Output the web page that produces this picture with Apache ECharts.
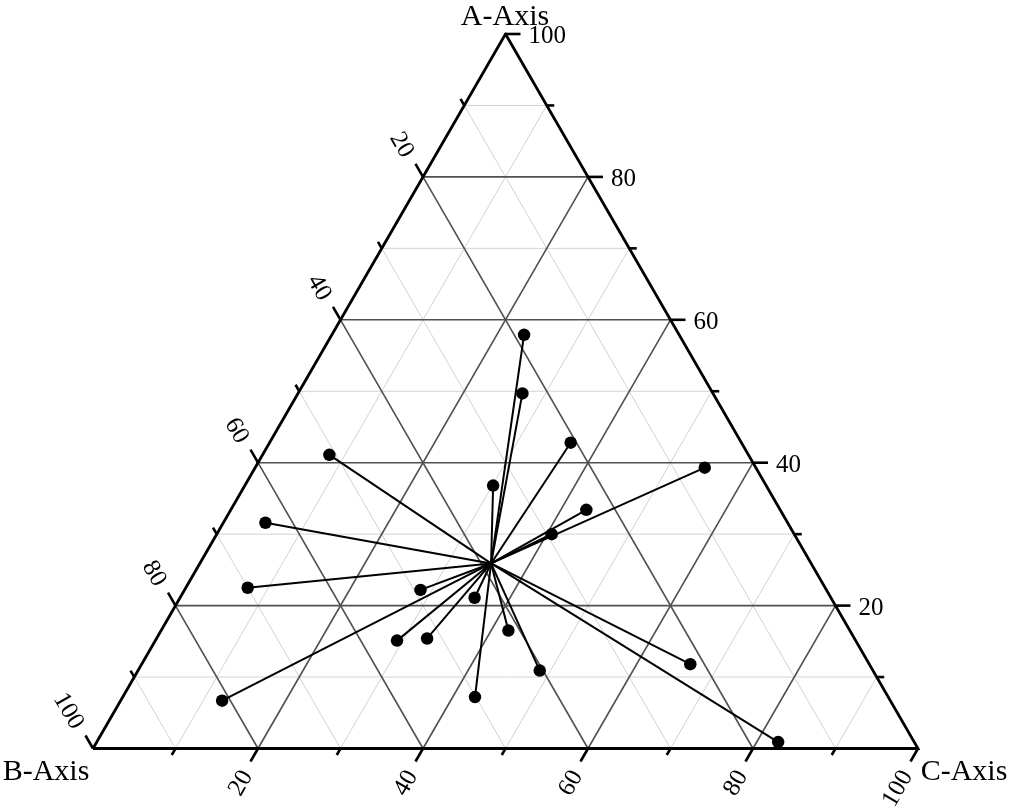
<!DOCTYPE html>
<html><head><meta charset="utf-8">
<script src="https://cdn.jsdelivr.net/npm/echarts@6/dist/echarts.min.js"></script>
<style>html,body{margin:0;padding:0;background:#fff}#c{width:1011px;height:812px}</style>
</head><body><div id="c"></div>
<script>
// ---- data (ternary compositions, percent) ----
const hubA = 25.9, hubB = 38.8, hubC = 35.3;
const pointA = [57.9, 49.7, 42.8, 39.3, 41.1, 36.8, 33.4, 31.6, 30.0, 22.5, 22.2, 21.1, 16.5, 15.1, 15.4, 11.8, 10.9, 6.7, 7.2, 0.9];
const pointB = [18.8, 23.1, 20.7, 6.2, 50.8, 33.1, 23.5, 63.3, 29.4, 70.0, 49.2, 43.2, 41.4, 55.6, 51.8, 21.7, 40.4, 81.0, 50.1, 16.5];
const pointC = [23.3, 27.2, 36.5, 54.5, 8.1, 30.1, 43.1, 5.1, 40.6, 7.5, 28.6, 35.7, 42.1, 29.3, 32.8, 66.5, 48.7, 12.3, 42.7, 82.6];
const tickValues = [10, 20, 30, 40, 50, 60, 70, 80, 90, 100];
const tickLabels = ['20', '40', '60', '80', '100'];
const majorGrid = [20, 40, 60, 80];
const minorGrid = [10, 30, 50, 70, 90];
const axisTitles = ['A-Axis', 'B-Axis', 'C-Axis'];

const S3 = Math.sqrt(3) / 2;
function toXY(a, b, c) { const s = a + b + c; a /= s; c /= s; return [100 * (c + a / 2), 100 * a * S3]; }

const FONT = '"Liberation Serif", "DejaVu Serif", serif';

function gridSegs(vals) {
  const out = [];
  vals.forEach(v => {
    out.push([...toXY(v, 100 - v, 0), ...toXY(v, 0, 100 - v)]);   // A const
    out.push([...toXY(100 - v, v, 0), ...toXY(0, v, 100 - v)]);   // B const
    out.push([...toXY(100 - v, 0, v), ...toXY(0, 100 - v, v)]);   // C const
  });
  return out;
}
function segSeries(data, color, width, z) {
  return {
    type: 'custom', z: z, silent: true, data: data,
    renderItem: (p, api) => {
      const a = api.coord([api.value(0), api.value(1)]);
      const b = api.coord([api.value(2), api.value(3)]);
      return { type: 'line', shape: { x1: a[0], y1: a[1], x2: b[0], y2: b[1] }, style: { stroke: color, lineWidth: width } };
    }
  };
}
const axisDefs = [
  { edge: v => toXY(v, 0, 100 - v), dir: [1, 0], rot: 0, align: 'left', gap: 23 },
  { edge: v => toXY(100 - v, v, 0), dir: [-0.5, -S3], rot: -Math.PI / 3, align: 'right', gap: 26 },
  { edge: v => toXY(0, 100 - v, v), dir: [-0.5, S3], rot: Math.PI / 3, align: 'right', gap: 26 }
];
function tickSeries(def) {
  const ly = [Math.sin(def.rot), Math.cos(def.rot)]; // text-local "down" on screen
  const drop = 2.8;
  return {
    type: 'custom', z: 5, silent: true, data: tickValues.map(v => [v]),
    renderItem: (p, api) => {
      const v = api.value(0);
      const e = api.coord(def.edge(v));
      const major = v % 20 === 0;
      const len = major ? 15 : 7.5;
      const children = [{ type: 'line', shape: { x1: e[0], y1: e[1], x2: e[0] + def.dir[0] * len, y2: e[1] + def.dir[1] * len }, style: { stroke: '#000', lineWidth: 2.6 } }];
      if (major) {
        const t = tickLabels[v / 20 - 1];
        children.push({ type: 'text',
          x: e[0] + def.dir[0] * def.gap + ly[0] * drop, y: e[1] + def.dir[1] * def.gap + ly[1] * drop, rotation: def.rot,
          style: { text: t, align: def.align, verticalAlign: 'middle', font: '25px ' + FONT, fill: '#000' } });
      }
      return { type: 'group', children: children };
    }
  };
}

const hubXY = toXY(hubA, hubB, hubC);
const pts = pointA.map((a, i) => toXY(a, pointB[i], pointC[i]));
const spokes = pts.map(p => [...hubXY, ...p]);

const chart = echarts.init(document.getElementById('c'), null, { renderer: 'canvas' });
chart.setOption({
  animation: false,
  grid: { left: 93, top: 34, width: 825, height: 714.5 },
  xAxis: { type: 'value', min: 0, max: 100, show: false },
  yAxis: { type: 'value', min: 0, max: 100 * S3, show: false },
  graphic: [
    { type: 'text', x: 505, y: 17, style: { text: axisTitles[0], align: 'center', verticalAlign: 'middle', font: '30px ' + FONT, fill: '#000' } },
    { type: 'text', x: 46, y: 772, style: { text: axisTitles[1], align: 'center', verticalAlign: 'middle', font: '30px ' + FONT, fill: '#000' } },
    { type: 'text', x: 964, y: 772, style: { text: axisTitles[2], align: 'center', verticalAlign: 'middle', font: '30px ' + FONT, fill: '#000' } }
  ],
  series: [
    segSeries(gridSegs(minorGrid), '#d2d2d2', 1, 1),
    segSeries(gridSegs(majorGrid), '#505050', 1.6, 2),
    { type: 'line', z: 4, silent: true, symbol: 'none', data: [toXY(0, 100, 0), toXY(0, 0, 100), toXY(100, 0, 0), toXY(0, 100, 0)],
      lineStyle: { color: '#000', width: 2.8, join: 'miter' } },
    tickSeries(axisDefs[0]), tickSeries(axisDefs[1]), tickSeries(axisDefs[2]),
    segSeries(spokes, '#000', 2, 6),
    { type: 'scatter', z: 7, silent: true, data: pts, symbol: 'circle', symbolSize: 12.5, itemStyle: { color: '#000', opacity: 1 } }
  ]
});
</script></body></html>
